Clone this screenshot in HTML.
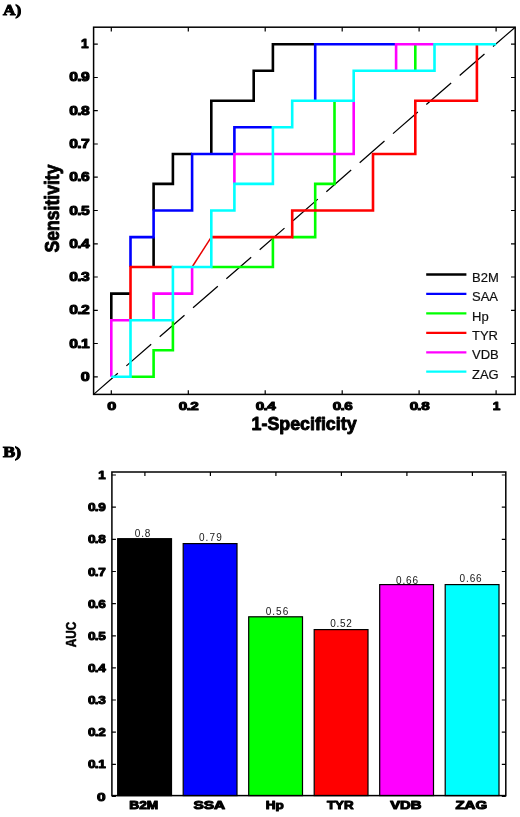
<!DOCTYPE html>
<html><head><meta charset="utf-8"><title>ROC</title>
<style>html,body{margin:0;padding:0;background:#fff;}svg{display:block;}text{font-family:"Liberation Sans",sans-serif;}.tk{font-weight:bold;fill:#000;stroke:#000;stroke-width:1.0px;stroke-linejoin:round;}.lb{font-weight:bold;fill:#000;stroke:#000;stroke-width:0.9px;stroke-linejoin:round;}.lg{fill:#111;stroke:#111;stroke-width:0.2px;}.vl{fill:#161616;}.pn{font-family:"Liberation Serif",serif;font-weight:bold;fill:#000;stroke:#000;stroke-width:1.0px;}</style></head><body>
<svg width="520" height="817" viewBox="0 0 520 817">
<defs><filter id="soft" x="0" y="0" width="520" height="817" filterUnits="userSpaceOnUse"><feGaussianBlur stdDeviation="0.45"/></filter></defs>
<rect x="0" y="0" width="520" height="817" fill="#ffffff"/>
<g filter="url(#soft)">
<rect x="0" y="0" width="520" height="817" fill="#ffffff"/>
<text class="pn" x="2.9" y="15.1" font-size="15.6" textLength="18.3" lengthAdjust="spacingAndGlyphs">A)</text>
<text class="pn" x="2.9" y="457" font-size="15.6" textLength="18.3" lengthAdjust="spacingAndGlyphs">B)</text>
<g id="top">
<line x1="93.6" y1="394.4" x2="515.2" y2="27.2" stroke="#000" stroke-width="1.25" stroke-dasharray="32.9 11.3" stroke-dashoffset="0.75"/>
<path d="M111.3,320.3 L111.3,293.6 L130.5,293.6 M153.6,267.0 L153.6,237.1 M153.6,210.5 L153.6,183.9 L172.9,183.9 L172.9,154.0 L192.1,154.0 M211.3,154.0 L211.3,100.7 L253.7,100.7 L253.7,70.8 L272.9,70.8 L272.9,44.2 L315.2,44.2" fill="none" stroke="#000000" stroke-width="2.6" stroke-linejoin="miter" stroke-linecap="butt"/>
<path d="M130.5,267.0 L130.5,237.1 L153.6,237.1 L153.6,210.5 L192.1,210.5 L192.1,154.0 L234.4,154.0 L234.4,127.3 L272.9,127.3 M315.2,100.7 L315.2,44.2 L396.1,44.2" fill="none" stroke="#0000ff" stroke-width="2.6" stroke-linejoin="miter" stroke-linecap="butt"/>
<path d="M130.5,376.8 L153.6,376.8 L153.6,350.2 L172.9,350.2 L172.9,320.3 M211.3,267.0 L272.9,267.0 L272.9,237.1 M292.2,237.1 L315.2,237.1 L315.2,183.9 L334.5,183.9 L334.5,100.7 M415.3,70.8 L415.3,44.2" fill="none" stroke="#00ff00" stroke-width="2.6" stroke-linejoin="miter" stroke-linecap="butt"/>
<path d="M130.5,320.3 L130.5,267.0 L172.9,267.0 M211.3,237.1 L292.2,237.1 L292.2,210.5 L373.0,210.5 L373.0,154.0 L415.3,154.0 L415.3,100.7 L476.9,100.7 L476.9,44.2" fill="none" stroke="#ff0000" stroke-width="2.6" stroke-linejoin="miter" stroke-linecap="butt"/>
<line x1="192.1" y1="267.0" x2="211.3" y2="237.1" stroke="#e80000" stroke-width="1.5"/>
<path d="M111.3,376.8 L111.3,320.3 L130.5,320.3 M153.6,320.3 L153.6,293.6 L192.1,293.6 L192.1,267.0 M234.4,183.9 L234.4,154.0 L353.7,154.0 L353.7,100.7 M396.1,70.8 L396.1,44.2 L434.5,44.2" fill="none" stroke="#ff00ff" stroke-width="2.6" stroke-linejoin="miter" stroke-linecap="butt"/>
<path d="M111.3,376.8 L130.5,376.8 L130.5,320.3 L172.9,320.3 L172.9,267.0 L211.3,267.0 L211.3,210.5 L234.4,210.5 L234.4,183.9 L272.9,183.9 L272.9,127.3 L292.2,127.3 L292.2,100.7 L353.7,100.7 L353.7,70.8 L434.5,70.8 L434.5,44.2 L496.1,44.2" fill="none" stroke="#00ffff" stroke-width="2.6" stroke-linejoin="miter" stroke-linecap="butt"/>
<rect x="93.6" y="27.2" width="421.6" height="367.2" fill="none" stroke="#000" stroke-width="1.5"/>
<path d="M93.6,376.8 h4.2 M515.2,376.8 h-4.2" stroke="#000" stroke-width="1.2" fill="none"/>
<text class="tk" transform="translate(80.80,380.80) scale(1.349,1)" font-size="12">0</text>
<path d="M93.6,343.5 h4.2 M515.2,343.5 h-4.2" stroke="#000" stroke-width="1.2" fill="none"/>
<text class="tk" transform="translate(69.30,347.54) scale(1.302,1)" font-size="12" x="0 6.07 9.07">0.1</text>
<path d="M93.6,310.3 h4.2 M515.2,310.3 h-4.2" stroke="#000" stroke-width="1.2" fill="none"/>
<text class="tk" transform="translate(69.30,314.28) scale(1.302,1)" font-size="12" x="0 6.07 9.07">0.2</text>
<path d="M93.6,277.0 h4.2 M515.2,277.0 h-4.2" stroke="#000" stroke-width="1.2" fill="none"/>
<text class="tk" transform="translate(69.30,281.02) scale(1.302,1)" font-size="12" x="0 6.07 9.07">0.3</text>
<path d="M93.6,243.8 h4.2 M515.2,243.8 h-4.2" stroke="#000" stroke-width="1.2" fill="none"/>
<text class="tk" transform="translate(69.30,247.76) scale(1.302,1)" font-size="12" x="0 6.07 9.07">0.4</text>
<path d="M93.6,210.5 h4.2 M515.2,210.5 h-4.2" stroke="#000" stroke-width="1.2" fill="none"/>
<text class="tk" transform="translate(69.30,214.50) scale(1.302,1)" font-size="12" x="0 6.07 9.07">0.5</text>
<path d="M93.6,177.2 h4.2 M515.2,177.2 h-4.2" stroke="#000" stroke-width="1.2" fill="none"/>
<text class="tk" transform="translate(69.30,181.24) scale(1.302,1)" font-size="12" x="0 6.07 9.07">0.6</text>
<path d="M93.6,144.0 h4.2 M515.2,144.0 h-4.2" stroke="#000" stroke-width="1.2" fill="none"/>
<text class="tk" transform="translate(69.30,147.98) scale(1.302,1)" font-size="12" x="0 6.07 9.07">0.7</text>
<path d="M93.6,110.7 h4.2 M515.2,110.7 h-4.2" stroke="#000" stroke-width="1.2" fill="none"/>
<text class="tk" transform="translate(69.30,114.72) scale(1.302,1)" font-size="12" x="0 6.07 9.07">0.8</text>
<path d="M93.6,77.5 h4.2 M515.2,77.5 h-4.2" stroke="#000" stroke-width="1.2" fill="none"/>
<text class="tk" transform="translate(69.30,81.46) scale(1.302,1)" font-size="12" x="0 6.07 9.07">0.9</text>
<path d="M93.6,44.2 h4.2 M515.2,44.2 h-4.2" stroke="#000" stroke-width="1.2" fill="none"/>
<text class="tk" transform="translate(81.00,47.80) scale(1.139,1)" font-size="12">1</text>
<path d="M111.3,394.4 v-4.2 M111.3,27.2 v4.2" stroke="#000" stroke-width="1.2" fill="none"/>
<text class="tk" transform="translate(107.30,410.00) scale(1.408,1)" font-size="11.5">0</text>
<path d="M188.3,394.4 v-4.2 M188.3,27.2 v4.2" stroke="#000" stroke-width="1.2" fill="none"/>
<text class="tk" transform="translate(178.76,410.00) scale(1.326,1)" font-size="11.5" x="0 5.82 8.69">0.2</text>
<path d="M265.2,394.4 v-4.2 M265.2,27.2 v4.2" stroke="#000" stroke-width="1.2" fill="none"/>
<text class="tk" transform="translate(255.72,410.00) scale(1.326,1)" font-size="11.5" x="0 5.82 8.69">0.4</text>
<path d="M342.2,394.4 v-4.2 M342.2,27.2 v4.2" stroke="#000" stroke-width="1.2" fill="none"/>
<text class="tk" transform="translate(332.68,410.00) scale(1.326,1)" font-size="11.5" x="0 5.82 8.69">0.6</text>
<path d="M419.1,394.4 v-4.2 M419.1,27.2 v4.2" stroke="#000" stroke-width="1.2" fill="none"/>
<text class="tk" transform="translate(409.64,410.00) scale(1.326,1)" font-size="11.5" x="0 5.82 8.69">0.8</text>
<path d="M496.1,394.4 v-4.2 M496.1,27.2 v4.2" stroke="#000" stroke-width="1.2" fill="none"/>
<text class="tk" transform="translate(492.80,410.00) scale(1.189,1)" font-size="11.5">1</text>
<text class="lb" x="251.6" y="430.2" font-size="17.5" textLength="105" lengthAdjust="spacingAndGlyphs">1-Specificity</text>
<text class="lb" transform="translate(59,252.5) rotate(-90)" font-size="20.5" textLength="88" lengthAdjust="spacingAndGlyphs">Sensitivity</text>
<line x1="426.2" y1="274.5" x2="466.4" y2="274.5" stroke="#000000" stroke-width="2.3"/>
<text class="lg" x="472" y="281.6" font-size="13">B2M</text>
<line x1="426.2" y1="293.9" x2="466.4" y2="293.9" stroke="#0000ff" stroke-width="2.3"/>
<text class="lg" x="472" y="301.0" font-size="13">SAA</text>
<line x1="426.2" y1="313.4" x2="466.4" y2="313.4" stroke="#00ff00" stroke-width="2.3"/>
<text class="lg" x="472" y="320.5" font-size="13">Hp</text>
<line x1="426.2" y1="332.8" x2="466.4" y2="332.8" stroke="#ff0000" stroke-width="2.3"/>
<text class="lg" x="472" y="339.9" font-size="13">TYR</text>
<line x1="426.2" y1="352.3" x2="466.4" y2="352.3" stroke="#ff00ff" stroke-width="2.3"/>
<text class="lg" x="472" y="359.4" font-size="13">VDB</text>
<line x1="426.2" y1="371.7" x2="466.4" y2="371.7" stroke="#00ffff" stroke-width="2.3"/>
<text class="lg" x="472" y="378.8" font-size="13">ZAG</text>
</g>
<g id="bot">
<rect x="117.7" y="538.7" width="53.8" height="256.9" fill="#000000" stroke="#000" stroke-width="1.2"/>
<text class="vl" x="134.8" y="536.5" font-size="10" textLength="15.6" lengthAdjust="spacing">0.8</text>
<path d="M144.9,472.0 v4" stroke="#000" stroke-width="1.2"/>
<text class="tk" x="129.3" y="809" font-size="11" textLength="29" lengthAdjust="spacingAndGlyphs">B2M</text>
<rect x="183.2" y="543.6" width="53.8" height="252.0" fill="#0000ff" stroke="#000" stroke-width="1.2"/>
<text class="vl" x="198.9" y="541.4" font-size="10" textLength="22.8" lengthAdjust="spacing">0.79</text>
<path d="M210.4,472.0 v4" stroke="#000" stroke-width="1.2"/>
<text class="tk" x="193.5" y="809" font-size="11" textLength="31.6" lengthAdjust="spacingAndGlyphs">SSA</text>
<rect x="248.7" y="616.8" width="53.8" height="178.8" fill="#00ff00" stroke="#000" stroke-width="1.2"/>
<text class="vl" x="265.8" y="614.6" font-size="10" textLength="22.4" lengthAdjust="spacing">0.56</text>
<path d="M275.9,472.0 v4" stroke="#000" stroke-width="1.2"/>
<text class="tk" x="265.8" y="809" font-size="11" textLength="18" lengthAdjust="spacingAndGlyphs">Hp</text>
<rect x="314.2" y="629.6" width="53.8" height="166.0" fill="#ff0000" stroke="#000" stroke-width="1.2"/>
<text class="vl" x="330.2" y="627.4" font-size="10" textLength="21.6" lengthAdjust="spacing">0.52</text>
<path d="M341.4,472.0 v4" stroke="#000" stroke-width="1.2"/>
<text class="tk" x="327.0" y="809" font-size="11" textLength="26.6" lengthAdjust="spacingAndGlyphs">TYR</text>
<rect x="379.7" y="584.6" width="53.8" height="211.0" fill="#ff00ff" stroke="#000" stroke-width="1.2"/>
<text class="vl" x="396.0" y="584.0" font-size="10" textLength="22.0" lengthAdjust="spacing">0.66</text>
<path d="M406.9,472.0 v4" stroke="#000" stroke-width="1.2"/>
<text class="tk" x="390.2" y="809" font-size="11" textLength="31.3" lengthAdjust="spacingAndGlyphs">VDB</text>
<rect x="445.2" y="584.6" width="53.8" height="211.0" fill="#00ffff" stroke="#000" stroke-width="1.2"/>
<text class="vl" x="459.6" y="582.0" font-size="10" textLength="22.0" lengthAdjust="spacing">0.66</text>
<path d="M472.4,472.0 v4" stroke="#000" stroke-width="1.2"/>
<text class="tk" x="455.4" y="809" font-size="11" textLength="31.7" lengthAdjust="spacingAndGlyphs">ZAG</text>
<rect x="111.9" y="472.0" width="393.9" height="323.6" fill="none" stroke="#000" stroke-width="1.5"/>
<path d="M111.9,796.5 h4 M505.8,796.5 h-4" stroke="#000" stroke-width="1.2" fill="none"/>
<text class="tk" transform="translate(97.10,800.60) scale(1.345,1)" font-size="11.5">0</text>
<path d="M111.9,764.4 h4 M505.8,764.4 h-4" stroke="#000" stroke-width="1.2" fill="none"/>
<text class="tk" transform="translate(87.90,768.45) scale(1.180,1)" font-size="11.5" x="0 5.82 8.69">0.1</text>
<path d="M111.9,732.2 h4 M505.8,732.2 h-4" stroke="#000" stroke-width="1.2" fill="none"/>
<text class="tk" transform="translate(87.90,736.30) scale(1.180,1)" font-size="11.5" x="0 5.82 8.69">0.2</text>
<path d="M111.9,700.0 h4 M505.8,700.0 h-4" stroke="#000" stroke-width="1.2" fill="none"/>
<text class="tk" transform="translate(87.90,704.15) scale(1.180,1)" font-size="11.5" x="0 5.82 8.69">0.3</text>
<path d="M111.9,667.9 h4 M505.8,667.9 h-4" stroke="#000" stroke-width="1.2" fill="none"/>
<text class="tk" transform="translate(87.90,672.00) scale(1.180,1)" font-size="11.5" x="0 5.82 8.69">0.4</text>
<path d="M111.9,635.8 h4 M505.8,635.8 h-4" stroke="#000" stroke-width="1.2" fill="none"/>
<text class="tk" transform="translate(87.90,639.85) scale(1.180,1)" font-size="11.5" x="0 5.82 8.69">0.5</text>
<path d="M111.9,603.6 h4 M505.8,603.6 h-4" stroke="#000" stroke-width="1.2" fill="none"/>
<text class="tk" transform="translate(87.90,607.70) scale(1.180,1)" font-size="11.5" x="0 5.82 8.69">0.6</text>
<path d="M111.9,571.5 h4 M505.8,571.5 h-4" stroke="#000" stroke-width="1.2" fill="none"/>
<text class="tk" transform="translate(87.90,575.55) scale(1.180,1)" font-size="11.5" x="0 5.82 8.69">0.7</text>
<path d="M111.9,539.3 h4 M505.8,539.3 h-4" stroke="#000" stroke-width="1.2" fill="none"/>
<text class="tk" transform="translate(87.90,543.40) scale(1.180,1)" font-size="11.5" x="0 5.82 8.69">0.8</text>
<path d="M111.9,507.1 h4 M505.8,507.1 h-4" stroke="#000" stroke-width="1.2" fill="none"/>
<text class="tk" transform="translate(87.90,511.25) scale(1.180,1)" font-size="11.5" x="0 5.82 8.69">0.9</text>
<path d="M111.9,475.0 h4 M505.8,475.0 h-4" stroke="#000" stroke-width="1.2" fill="none"/>
<text class="tk" transform="translate(98.30,479.10) scale(1.157,1)" font-size="11.5">1</text>
<text class="lb" transform="translate(75.8,647.2) rotate(-90)" font-size="14.5" textLength="25.6" lengthAdjust="spacingAndGlyphs" style="stroke-width:0.5px">AUC</text>
</g>
</g>
</svg></body></html>
